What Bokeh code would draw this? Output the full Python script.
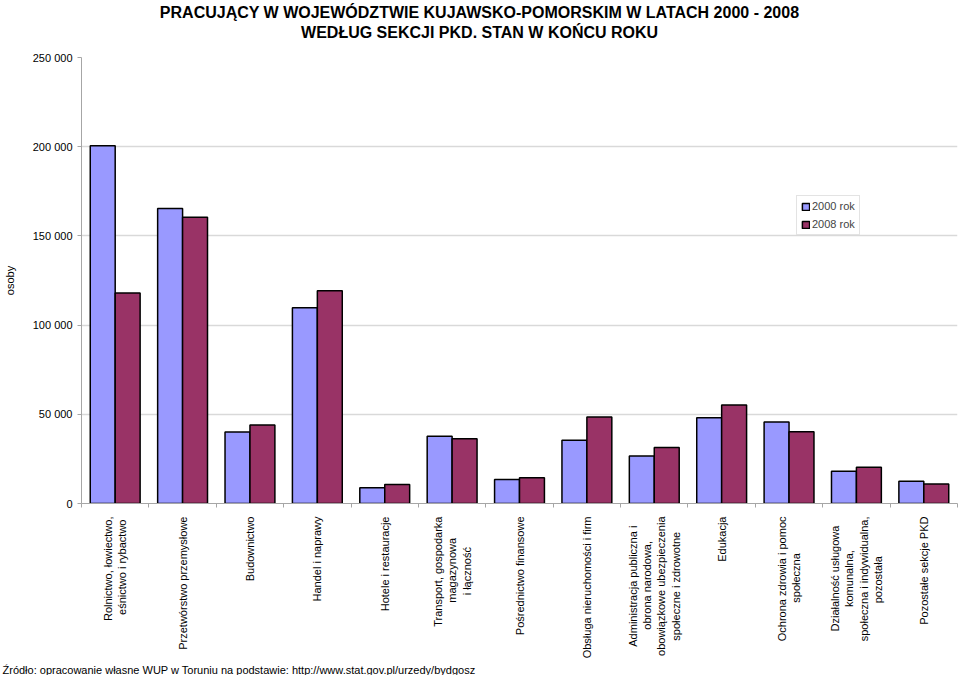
from math import pi
from bokeh.plotting import figure
from bokeh.layouts import column
from bokeh.models import ColumnDataSource, Range1d, FixedTicker, Legend, LegendItem, Title, Label
from bokeh.transform import dodge
from bokeh.embed import file_html
from bokeh.resources import INLINE

title_lines = ["PRACUJĄCY W WOJEWÓDZTWIE KUJAWSKO-POMORSKIM W LATACH 2000 - 2008",
               "WEDŁUG SEKCJI PKD. STAN W KOŃCU ROKU"]
categories = [
    "Rolnictwo, łowiectwo,\neśnictwo i rybactwo",
    "Przetwórstwo przemysłowe",
    "Budownictwo",
    "Handel i naprawy",
    "Hotele i restauracje",
    "Transport, gospodarka\nmagazynowa\ni łączność",
    "Pośrednictwo finansowe",
    "Obsługa nieruchomości i firm",
    "Administracja publiczna i\nobrona narodowa,\nobowiązkowe ubezpieczenia\nspołeczne i zdrowotne",
    "Edukacja",
    "Ochrona zdrowia i pomoc\nspołeczna",
    "Działalność usługowa\nkomunalna,\nspołeczna i indywidualna,\npozostała",
    "Pozostałe sekcje PKD",
]
values_2000 = [200500, 165400, 40100, 109700, 8800, 37700, 13500, 35500, 26600, 48100, 45700, 18100, 12500]
values_2008 = [118000, 160400, 44000, 119200, 10700, 36300, 14400, 48500, 31400, 55200, 40200, 20300, 11000]
series_names = ["2000 rok", "2008 rok"]
y_ticks = [0, 50000, 100000, 150000, 200000, 250000]
y_tick_labels = ["0", "50 000", "100 000", "150 000", "200 000", "250 000"]
y_axis_title = "osoby"
source_note = "Źródło:  opracowanie własne WUP w Toruniu na podstawie: http://www.stat.gov.pl/urzedy/bydgosz"

FONT = "Liberation Sans"
W, H = 959, 675
TH = 45                      # height of the title strip
n = len(categories)
FL, FR, FT, FB = 79, 2, 57 - TH, 169

# approximate Arial/Liberation Sans advance widths (1/1000 em), used only to
# centre the lines of the multi-line category labels (Bokeh aligns them to one side)
CHAR_W = {" ": 278, ",": 278, ".": 278, "a": 556, "b": 556, "c": 500, "d": 556, "e": 556,
          "f": 278, "g": 556, "h": 556, "i": 222, "j": 222, "k": 500, "l": 222, "m": 833,
          "n": 556, "o": 556, "p": 556, "r": 333, "s": 500, "t": 278, "u": 556, "w": 722,
          "y": 500, "z": 500, "ł": 222, "ś": 500, "ą": 556, "ę": 556, "ć": 500, "ó": 556,
          "ż": 500, "ź": 500, "ń": 556, "A": 667, "D": 722, "O": 778, "T": 611, "R": 722,
          "E": 667, "P": 667, "H": 722, "K": 667}


def text_w(s):
    return sum(CHAR_W.get(ch, 556) for ch in s)


def centre_lines(label):
    lines = label.split("\n")
    longest = max(text_w(ln) for ln in lines)
    return "\n".join(ln + " " * round((longest - text_w(ln)) / 2 / 278) for ln in lines)


# ---- title strip: its frame is aligned with the chart's frame by the column layout,
# so its x range is given in canvas pixels over that frame
tf = figure(width=W, height=TH, x_range=Range1d(FL, W - FR), y_range=Range1d(TH, 0),
            x_axis_type=None, y_axis_type=None, output_backend="svg", toolbar_location=None,
            min_border=0, min_border_left=FL, min_border_right=FR)
tf.title.visible = False
tf.outline_line_color = None
tf.grid.visible = False
for k, line in enumerate(title_lines):
    tf.add_layout(Label(x=478, y=12 + 20 * k, text=line, text_align="center",
                        text_baseline="middle", text_font=FONT, text_font_size="16px",
                        text_font_style="bold", text_color="black"))

# ---- main chart
p = figure(width=W, height=H - TH, x_range=Range1d(-0.5, n - 0.5), y_range=Range1d(0, 250000),
           output_backend="svg", toolbar_location=None,
           min_border_left=FL, min_border_right=FR, min_border_top=FT, min_border_bottom=FB)
p.title.visible = False
p.outline_line_color = None
p.background_fill_color = "white"
p.border_fill_color = "white"

src = ColumnDataSource(dict(idx=list(range(n)), v2000=values_2000, v2008=values_2008))
bw = 0.37
r1 = p.vbar(x=dodge('idx', -bw / 2), top='v2000', width=bw, source=src,
            fill_color="#9999FF", line_color="#000000", line_width=1.5)
r2 = p.vbar(x=dodge('idx', bw / 2), top='v2008', width=bw, source=src,
            fill_color="#993366", line_color="#000000", line_width=1.5)

# y axis
p.yaxis.ticker = FixedTicker(ticks=y_ticks)
p.yaxis.major_label_overrides = {t: l for t, l in zip(y_ticks, y_tick_labels)}
p.yaxis.major_label_text_font = FONT
p.yaxis.major_label_text_font_size = "11px"
p.yaxis.major_label_text_color = "black"
p.yaxis.axis_line_color = "#a6a6a6"
p.yaxis.major_tick_line_color = "#a6a6a6"
p.yaxis.major_tick_out = 4
p.yaxis.major_tick_in = 0
p.yaxis.minor_tick_line_color = None
p.yaxis.major_label_standoff = 5
p.yaxis.axis_label = y_axis_title
p.yaxis.axis_label_text_font = FONT
p.yaxis.axis_label_text_font_size = "11px"
p.yaxis.axis_label_text_font_style = "normal"
p.yaxis.axis_label_text_color = "black"
p.yaxis.axis_label_standoff = 14

# x axis: category labels at integer positions, small ticks at boundaries
p.xaxis.ticker = FixedTicker(ticks=list(range(n)), minor_ticks=[i - 0.5 for i in range(n + 1)])
p.xaxis.major_label_overrides = {i: centre_lines(c) for i, c in enumerate(categories)}
p.xaxis.major_label_orientation = pi / 2
p.xaxis.major_label_text_font = FONT
p.xaxis.major_label_text_font_size = "11px"
p.xaxis.major_label_text_color = "black"
p.xaxis.major_label_standoff = 9
p.xaxis.major_tick_line_color = None
p.xaxis.major_tick_out = 0
p.xaxis.major_tick_in = 0
p.xaxis.minor_tick_line_color = "#a6a6a6"
p.xaxis.minor_tick_out = 4
p.xaxis.minor_tick_in = 0
p.xaxis.axis_line_color = "#a6a6a6"

p.xgrid.grid_line_color = None
p.ygrid.ticker = FixedTicker(ticks=y_ticks)
p.ygrid.grid_line_color = "#d9d9d9"
p.ygrid.grid_line_width = 1.5

note = Title(text=source_note, align="left", offset=-(FL - 0), standoff=0, text_font=FONT,
             text_font_size="11px", text_font_style="normal", text_color="black")
p.add_layout(note, "below")

legend = Legend(items=[LegendItem(label=series_names[0], renderers=[r1]),
                       LegendItem(label=series_names[1], renderers=[r2])],
                location=(715, 268))
legend.background_fill_color = "white"
legend.background_fill_alpha = 1
legend.border_line_color = "#c8c8c8"
legend.label_text_font = FONT
legend.label_text_font_size = "11px"
legend.glyph_width = 9
legend.glyph_height = 9
legend.label_standoff = 2
legend.label_height = 9
legend.padding = 4
legend.spacing = 6
legend.margin = 0
p.add_layout(legend, "center")

layout = column(tf, p, spacing=0)
open("out.html", "w").write(file_html(layout, INLINE))
